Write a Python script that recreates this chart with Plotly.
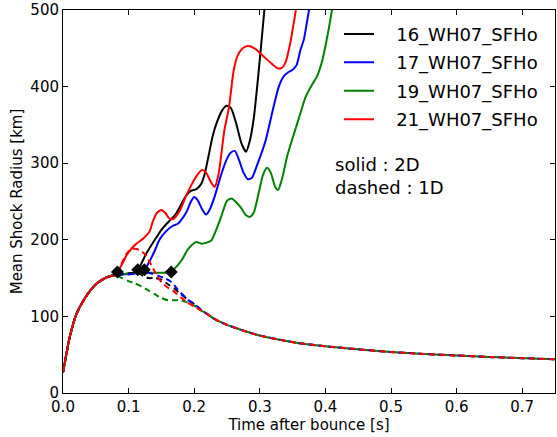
import plotly.graph_objects as go

# ---- data (time after bounce [s], mean shock radius [km]) ----
t_rise = [0.0, 0.005, 0.01, 0.02, 0.03, 0.04, 0.05, 0.06, 0.07, 0.08]
r_rise = [27, 50, 72, 102, 119, 132, 142, 148, 152, 154]

t_decay = [0.22, 0.23, 0.25, 0.28, 0.30, 0.33, 0.36, 0.40, 0.45, 0.50, 0.55, 0.60, 0.65, 0.70, 0.75]
r_decay = [103, 97, 89, 80, 75, 69.5, 65, 61, 57, 53.5, 51, 49, 47, 45.5, 44]

# 2D (solid) after the common rise
t_16_2d = [0.09, 0.10, 0.108, 0.114, 0.12, 0.127, 0.14, 0.15, 0.158, 0.165, 0.173, 0.18, 0.188, 0.195,
           0.203, 0.21, 0.216, 0.222, 0.228, 0.234, 0.242, 0.249, 0.256, 0.264, 0.272, 0.279, 0.285,
           0.291, 0.299, 0.307, 0.312]
r_16_2d = [155, 156, 157, 160, 170, 182, 200, 213, 221, 227, 235, 246, 258, 264,
           266, 272, 286, 310, 335, 352, 368, 375, 372, 352, 326, 315, 330,
           360, 426, 500, 540]

t_17_2d = [0.09, 0.10, 0.11, 0.118, 0.124, 0.132, 0.14, 0.147, 0.158, 0.167, 0.175, 0.182, 0.188, 0.195,
           0.20, 0.205, 0.212, 0.218, 0.224, 0.231, 0.24, 0.249, 0.256, 0.262, 0.268, 0.275, 0.282,
           0.288, 0.297, 0.309, 0.32, 0.329, 0.337, 0.344, 0.35, 0.356, 0.362, 0.367, 0.375, 0.38]
r_17_2d = [155, 155, 156, 157, 160, 172, 186, 200, 212, 218, 221, 228, 236, 250,
           256, 252, 240, 233, 240, 256, 282, 304, 314, 316, 305, 288, 279,
           281, 300, 330, 370, 400, 414, 419, 422, 428, 448, 461, 500, 525]

t_19_2d = [0.09, 0.10, 0.12, 0.14, 0.155, 0.165, 0.173, 0.182, 0.19, 0.196, 0.203, 0.211, 0.218, 0.226,
           0.233, 0.241, 0.25, 0.257, 0.264, 0.272, 0.279, 0.285, 0.291, 0.298, 0.305, 0.311, 0.317,
           0.323, 0.328, 0.334, 0.342, 0.349, 0.36, 0.37, 0.38, 0.387, 0.394, 0.401, 0.41, 0.414]
r_19_2d = [155, 156, 157, 157, 157, 159, 165, 175, 187, 193, 197, 195, 196, 199,
           212, 230, 251, 254, 249, 241, 232, 230, 236, 260, 285, 294, 287,
           270, 265, 280, 310, 330, 360, 387, 403, 413, 430, 457, 500, 525]

t_21_2d = [0.083, 0.09, 0.097, 0.105, 0.112, 0.117, 0.124, 0.132, 0.137, 0.143, 0.15, 0.156, 0.162,
           0.168, 0.178, 0.187, 0.196, 0.205, 0.212, 0.218, 0.225, 0.231, 0.237, 0.246, 0.253, 0.26,
           0.266, 0.274, 0.282, 0.292, 0.305, 0.318, 0.327, 0.333, 0.339, 0.346, 0.355, 0.36]
r_21_2d = [158, 168, 180, 189, 195, 198, 203, 211, 224, 235, 239, 235, 228,
           227, 238, 256, 272, 285, 291, 288, 276, 269, 285, 343, 373, 420,
           440, 450, 453, 450, 440, 430, 424, 424, 431, 455, 500, 525]

# 1D (dashed) between the common rise and the common decay
t_16_1d = [0.09, 0.10, 0.114, 0.122, 0.13, 0.14, 0.15, 0.16, 0.17, 0.18, 0.19, 0.20, 0.21]
r_16_1d = [155, 156, 157, 153, 150, 150, 148, 142, 136, 129, 122, 116, 109]

t_17_1d = [0.09, 0.10, 0.11, 0.124, 0.135, 0.145, 0.155, 0.165, 0.175, 0.19, 0.20, 0.21]
r_17_1d = [155, 155, 156, 158, 156, 153, 150, 145, 135, 122, 116, 109]

t_19_1d = [0.09, 0.10, 0.11, 0.12, 0.13, 0.14, 0.15, 0.16, 0.17, 0.18, 0.19, 0.20, 0.21]
r_19_1d = [150, 146, 143, 139, 134, 129, 124, 121, 121, 121, 118, 114, 108]

t_21_1d = [0.083, 0.09, 0.097, 0.105, 0.112, 0.12, 0.127, 0.137, 0.144, 0.152, 0.159, 0.167, 0.181,
           0.19, 0.20, 0.21]
r_21_1d = [158, 170, 182, 188, 188, 185, 179, 163, 152, 143, 138, 134, 124, 118, 113, 108]

# diamond markers
t_marks = [0.083, 0.114, 0.124, 0.165]
r_marks = [158, 161, 161, 158]

models = ["16_WH07_SFHo", "17_WH07_SFHo", "19_WH07_SFHo", "21_WH07_SFHo"]
colors = ["#000000", "#0000ff", "#008000", "#ff0000"]

sets_2d = [(t_16_2d, r_16_2d), (t_17_2d, r_17_2d), (t_19_2d, r_19_2d), (t_21_2d, r_21_2d)]
sets_1d = [(t_16_1d, r_16_1d), (t_17_1d, r_17_1d), (t_19_1d, r_19_1d), (t_21_1d, r_21_1d)]

FONT = "DejaVu Sans"
fig = go.Figure()

nb = "\u00a0"
for name, col, (tt, rr) in zip(models, colors, sets_2d):
    pre_t = [x for x in t_rise if x < tt[0]]
    pre_r = r_rise[:len(pre_t)]
    fig.add_trace(go.Scatter(
        x=pre_t + tt, y=pre_r + rr, mode="lines", name=nb * 3 + name,
        legendgroup=name,
        line=dict(color=col, width=2, shape="spline", smoothing=0.6),
    ))

for name, col, (tt, rr) in zip(models, colors, sets_1d):
    pre_t = [x for x in t_rise if x < tt[0]]
    pre_r = r_rise[:len(pre_t)]
    fig.add_trace(go.Scatter(
        x=pre_t + tt + t_decay, y=pre_r + rr + r_decay, mode="lines", showlegend=False,
        line=dict(color=col, width=2, dash="6px,4px", shape="spline", smoothing=0.6),
    ))

fig.add_trace(go.Scatter(
    x=t_marks, y=r_marks, mode="markers", showlegend=False,
    marker=dict(symbol="diamond", size=10, color="#000000"),
))

fig.add_annotation(
    xref="paper", yref="paper", x=0.549, y=0.566, xanchor="left", yanchor="middle",
    align="left", showarrow=False,
    text="solid : 2D<br>dashed : 1D",
    font=dict(family=FONT, size=18, color="#000000"),
)

axis_common = dict(
    showline=True, linecolor="#000000", linewidth=1, mirror="ticks",
    ticks="inside", ticklen=5, tickcolor="#000000", tickwidth=1,
    showgrid=False, zeroline=False, automargin=False,
    tickfont=dict(family=FONT, size=15, color="#000000"),
)

fig.update_layout(
    width=557, height=437,
    margin=dict(l=63, r=2, t=10, b=44, autoexpand=False),
    paper_bgcolor="#ffffff", plot_bgcolor="#ffffff",
    font=dict(family=FONT, size=15, color="#000000"),
    xaxis=dict(range=[0, 0.75], tickvals=[0, 0.1, 0.2, 0.3, 0.4, 0.5, 0.6, 0.7], tickformat=".1f",
               title=dict(text="Time after bounce [s]", font=dict(family=FONT, size=15), standoff=2),
               **axis_common),
    yaxis=dict(range=[0, 500], tickvals=[0, 100, 200, 300, 400, 500],
               title=dict(text="Mean Shock Radius [km]", font=dict(family=FONT, size=15), standoff=4),
               **axis_common),
    legend=dict(x=0.561, y=0.985, xanchor="left", yanchor="top", bgcolor="rgba(0,0,0,0)",
                borderwidth=0, font=dict(family=FONT, size=18, color="#000000"),
                tracegroupgap=2, itemwidth=30),
    showlegend=True,
)

fig.write_html("out.html", config={"displayModeBar": False},
               post_script="document.body.style.margin='0px';document.body.style.padding='0px';")
